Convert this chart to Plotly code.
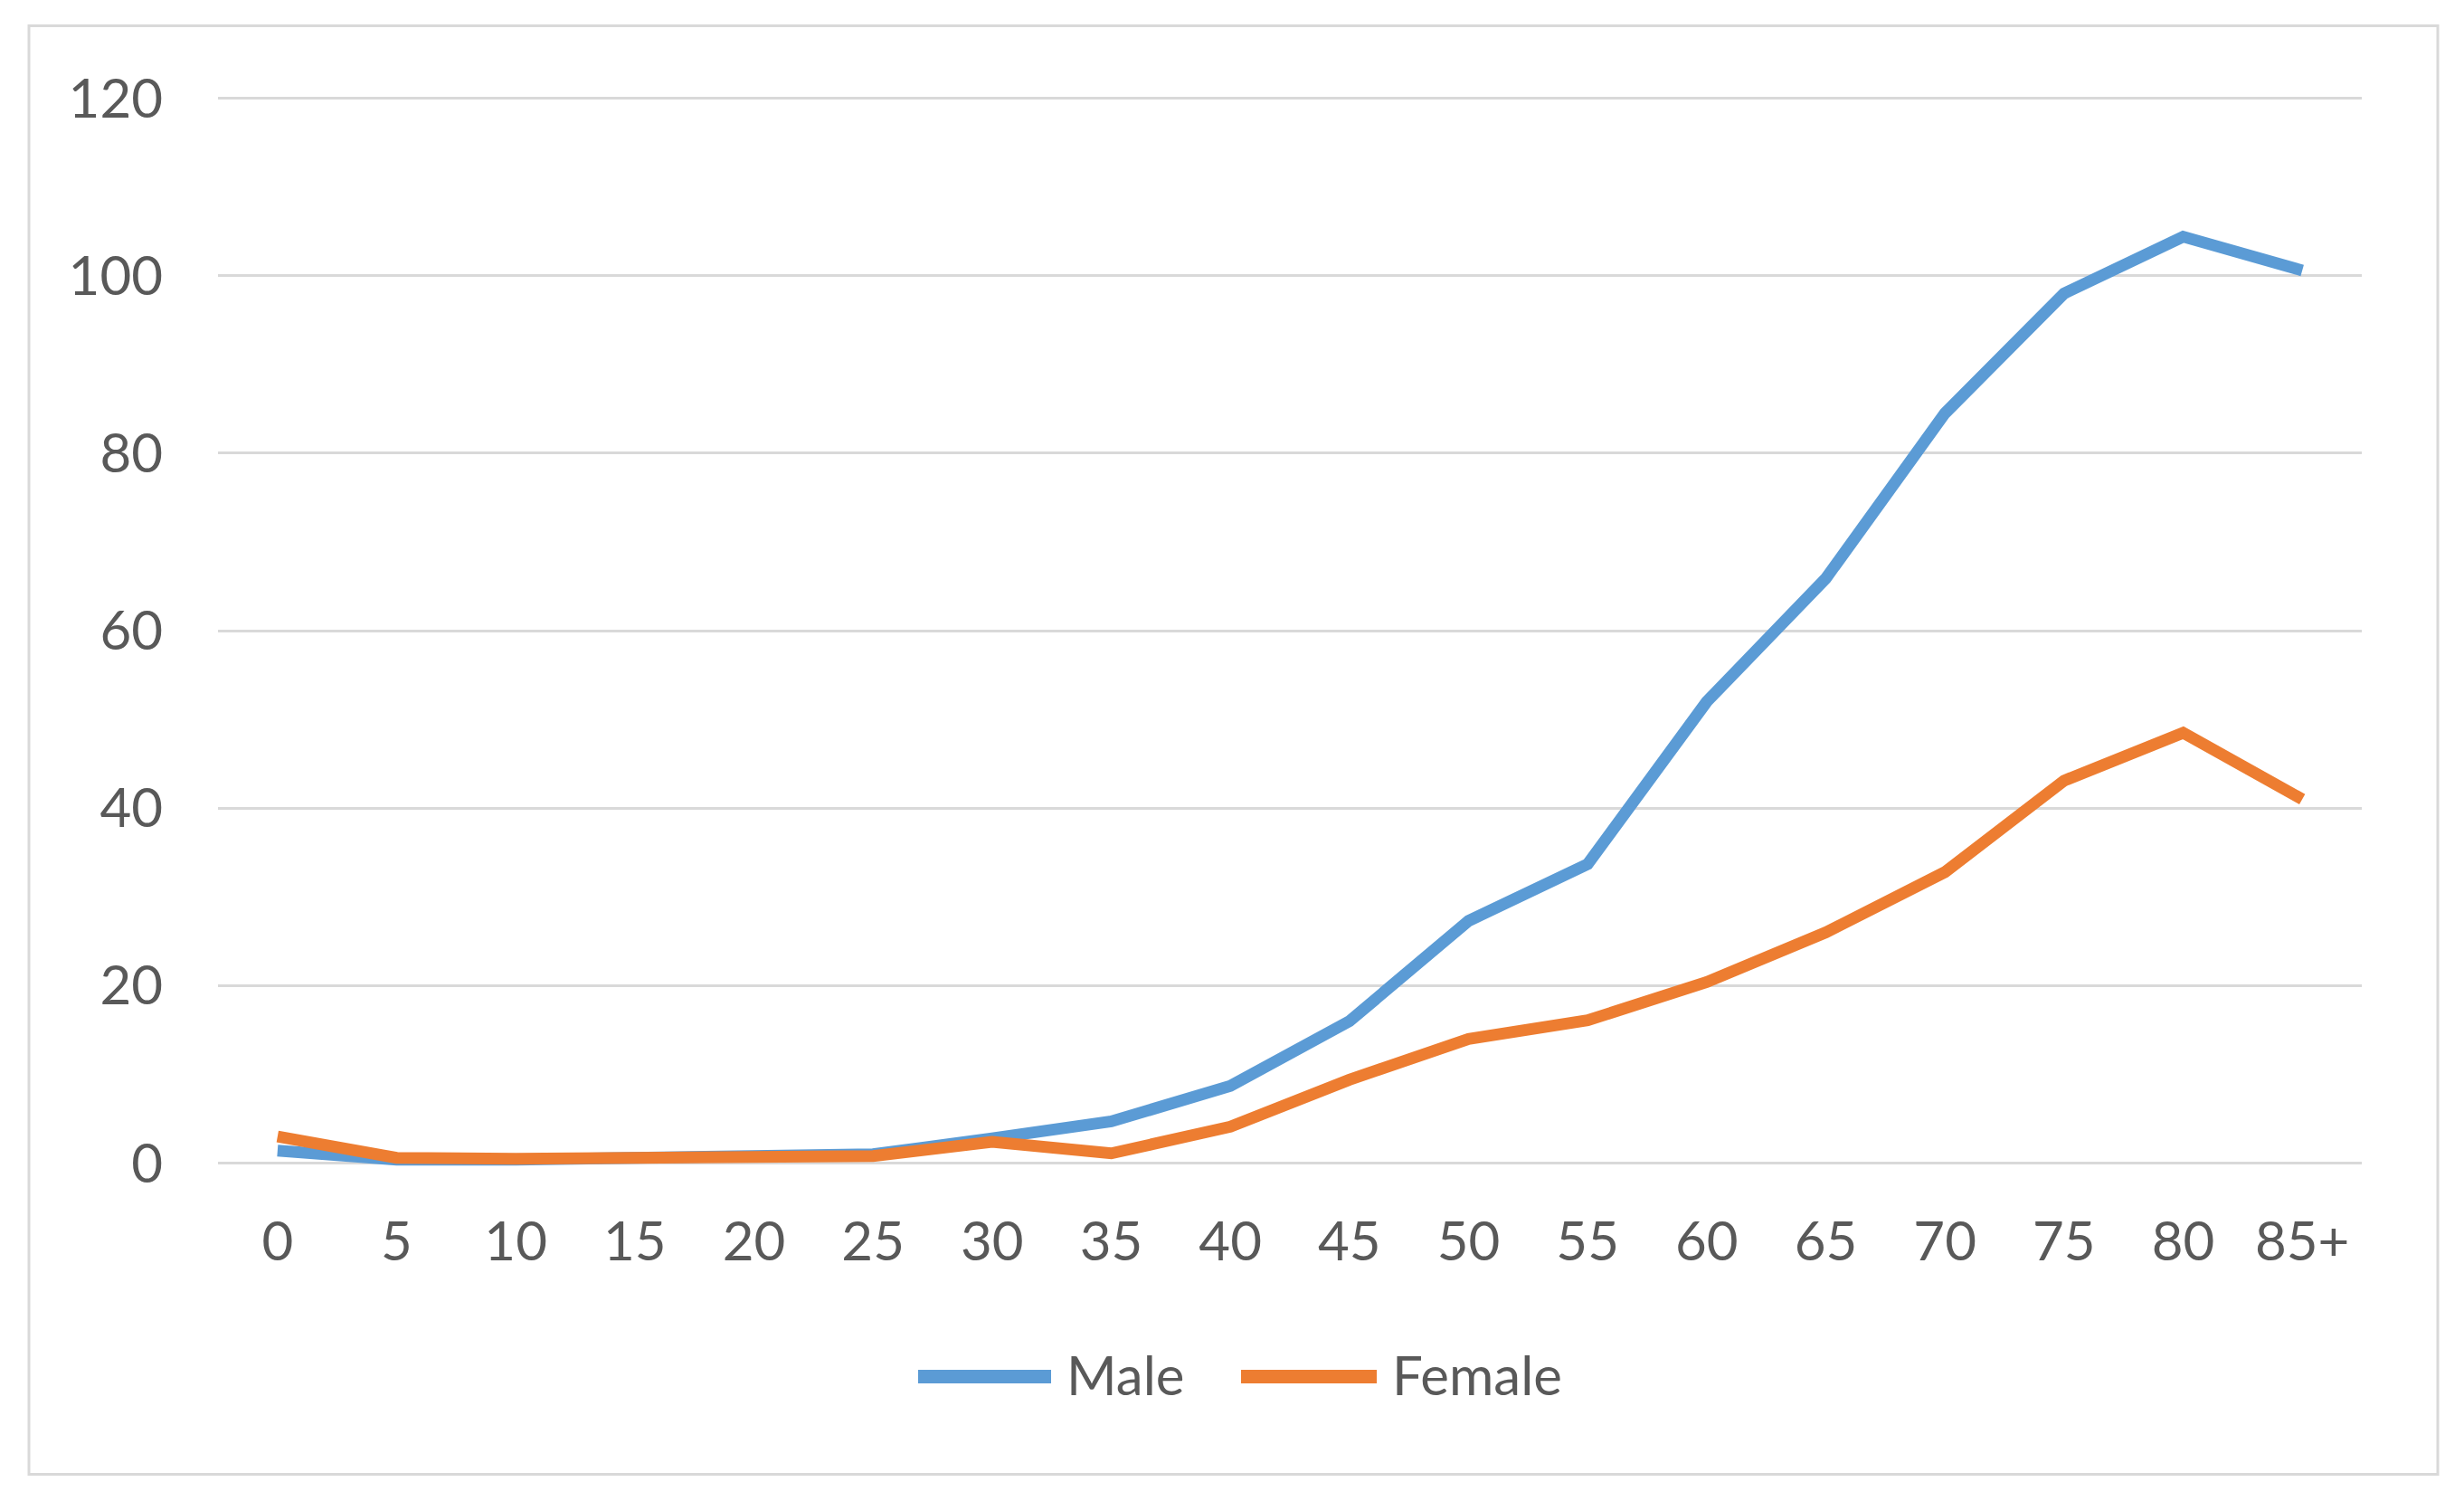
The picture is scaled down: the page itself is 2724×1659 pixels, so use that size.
import plotly.graph_objects as go

# ---- data ----
age_groups = ["0", "5", "10", "15", "20", "25", "30", "35", "40", "45",
              "50", "55", "60", "65", "70", "75", "80", "85+"]
male = [1.4, 0.4, 0.4, 0.6, 0.7, 1.0, 2.8, 4.7, 8.7, 16.0,
        27.3, 33.7, 52.0, 65.9, 84.5, 98.0, 104.4, 100.6]
female = [3.0, 0.6, 0.5, 0.7, 0.7, 0.8, 2.4, 1.1, 4.1, 9.4,
          14.0, 16.1, 20.4, 26.0, 32.8, 43.1, 48.5, 41.0]
y_ticks = [0, 20, 40, 60, 80, 100, 120]
series_names = ["Male", "Female"]
colors = ["#5B9BD5", "#ED7D31"]

W, H = 2724, 1659
L, R = 241, 2611          # plot area px
T, B = 89.4, 1315.4
FONT = dict(family="Lato, Open Sans, sans-serif", size=60, color="#595959")


def px_x(p):
    return (p - L) / (R - L)


def px_y(p):
    return (B - p) / (B - T)


fig = go.Figure()
for name, vals, col in zip(series_names, [male, female], colors):
    fig.add_trace(go.Scatter(x=age_groups, y=vals, mode="lines", name=name,
                             line=dict(color=col, width=13),
                             showlegend=False))

shapes = [
    dict(type="rect", xref="paper", yref="paper",
         x0=px_x(32), x1=px_x(2695), y0=px_y(1630), y1=px_y(29),
         line=dict(color="#D9D9D9", width=3), layer="below"),
]
annotations = []
legend_items = [(1015, 1162, 1177), (1372, 1522, 1537)]
for (x0, x1, tx), name, col in zip(legend_items, series_names, colors):
    shapes.append(dict(type="line", xref="paper", yref="paper",
                       x0=px_x(x0), x1=px_x(x1), y0=px_y(1522), y1=px_y(1522),
                       line=dict(color=col, width=15)))
    annotations.append(dict(xref="paper", yref="paper", x=px_x(tx), y=px_y(1519),
                            text=name, showarrow=False, xanchor="left",
                            yanchor="middle", font=FONT))

fig.update_layout(
    width=W, height=H,
    margin=dict(l=L, r=W - R, t=T, b=H - B, pad=0),
    paper_bgcolor="white", plot_bgcolor="white",
    font=FONT,
    shapes=shapes, annotations=annotations,
    xaxis=dict(type="category", range=[-0.5, 17.5], showgrid=False,
               showline=False, zeroline=False, ticks="",
               tickfont=FONT, ticklabelstandoff=17),
    yaxis=dict(range=[-3, 122], tickvals=y_ticks, showgrid=True,
               gridcolor="#D9D9D9", gridwidth=2.5, zeroline=False,
               showline=False, ticks="", tickfont=FONT,
               ticklabelstandoff=60),
)

fig.write_html("out.html",
               config={"displayModeBar": False},
               post_script="document.body.style.margin='0';document.body.style.overflow='hidden';")
